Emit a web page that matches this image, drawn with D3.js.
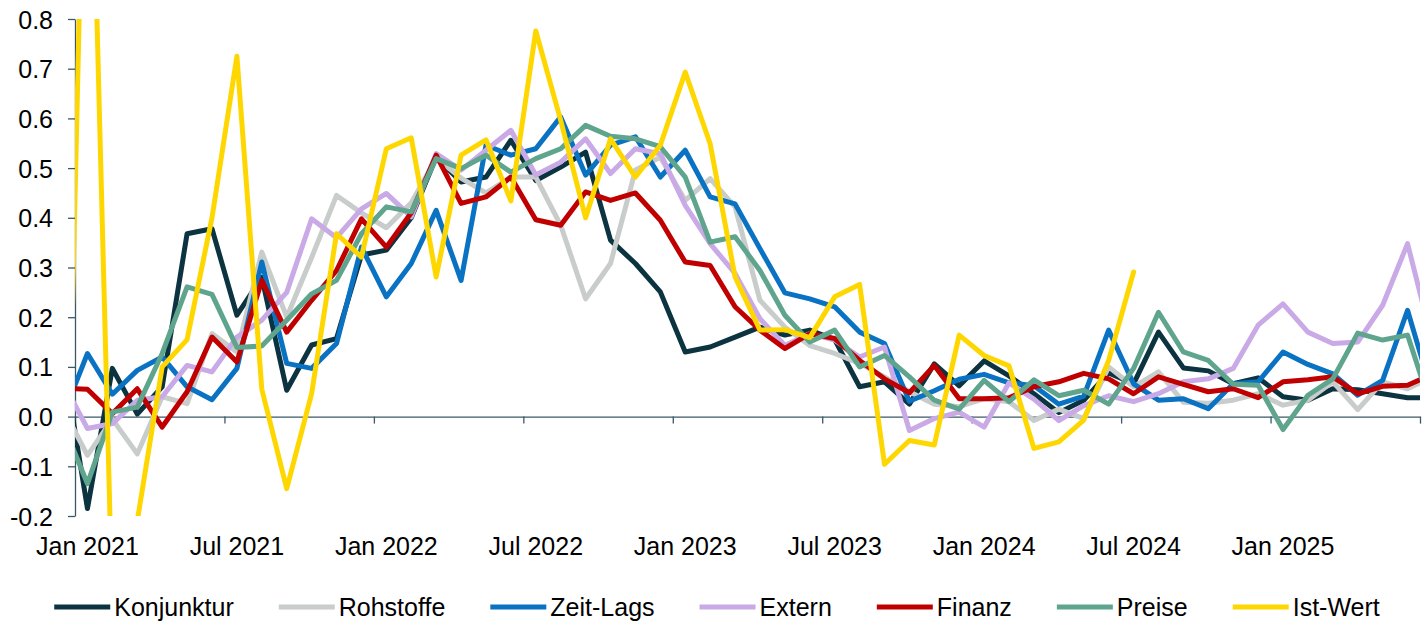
<!DOCTYPE html>
<html>
<head>
<meta charset="utf-8">
<script src="https://cdn.jsdelivr.net/npm/d3@7"></script>
<style>
  body { margin: 0; background: #fff; }
  svg text { font-family: "Liberation Sans", Arial, sans-serif; fill: #000; }
</style>
</head>
<body>
<div id="chart"></div>
<script>
// monthly values, Dec 2020 (index -1) .. Jul 2025; the plot shows Jan 2021 - Jun 2025
var firstMonth = new Date(2020, 11, 1);

var konjunktur = [0.125, -0.185, 0.097, 0.005, 0.06, 0.368, 0.378, 0.204, 0.28, 0.053, 0.144, 0.157, 0.325,
  0.335, 0.40, 0.522, 0.472, 0.482, 0.556, 0.475, 0.502, 0.532, 0.355, 0.308, 0.251,
  0.13, 0.14, 0.16, 0.18, 0.164, 0.174, 0.155, 0.06, 0.07, 0.025, 0.106, 0.062,
  0.112, 0.082, 0.046, 0.008, 0.033, 0.088, 0.066, 0.17, 0.098, 0.092, 0.066, 0.078,
  0.04, 0.033, 0.056, 0.054, 0.046, 0.038, 0.038];
var rohstoffe = [0.018, -0.078, -0.005, -0.075, 0.04, 0.026, 0.167, 0.13, 0.331, 0.2, 0.32, 0.445, 0.41,
  0.38, 0.43, 0.52, 0.48, 0.45, 0.482, 0.482, 0.385, 0.237, 0.308, 0.496, 0.522,
  0.435, 0.479, 0.422, 0.234, 0.18, 0.143, 0.127, 0.107, 0.08, 0.05, 0.025, 0.02,
  0.036, 0.03, -0.008, 0.015, -0.004, 0.1, 0.06, 0.09, 0.029, 0.027, 0.033, 0.046,
  0.023, 0.033, 0.07, 0.014, 0.07, 0.056, 0.08];
var zeitLags = [0.0, 0.127, 0.045, 0.093, 0.12, 0.06, 0.034, 0.097, 0.311, 0.107, 0.097, 0.147, 0.341,
  0.241, 0.308, 0.415, 0.274, 0.546, 0.526, 0.539, 0.603, 0.486, 0.546, 0.563, 0.482,
  0.536, 0.442, 0.428, 0.338, 0.249, 0.237, 0.221, 0.17, 0.147, 0.031, 0.052, 0.075,
  0.085, 0.068, 0.062, 0.025, 0.041, 0.174, 0.066, 0.033, 0.036, 0.016, 0.066, 0.07,
  0.13, 0.105, 0.086, 0.043, 0.073, 0.214, 0.044];
var extern = [0.07, -0.024, -0.014, 0.033, 0.04, 0.103, 0.09, 0.16, 0.194, 0.25, 0.398, 0.36, 0.418,
  0.449, 0.402, 0.529, 0.496, 0.536, 0.576, 0.486, 0.512, 0.559, 0.489, 0.539, 0.529,
  0.425, 0.348, 0.288, 0.197, 0.143, 0.167, 0.154, 0.12, 0.14, -0.028, -0.004, 0.009,
  -0.021, 0.068, 0.035, -0.008, 0.022, 0.042, 0.03, 0.046, 0.07, 0.076, 0.097, 0.184,
  0.227, 0.17, 0.147, 0.15, 0.224, 0.348, 0.15];
var finanz = [0.057, 0.055, 0.006, 0.056, -0.021, 0.05, 0.16, 0.11, 0.274, 0.17, 0.234, 0.294, 0.398,
  0.341, 0.41, 0.526, 0.429, 0.442, 0.482, 0.396, 0.385, 0.452, 0.435, 0.45, 0.395,
  0.311, 0.304, 0.221, 0.174, 0.137, 0.167, 0.157, 0.113, 0.076, 0.048, 0.103, 0.036,
  0.036, 0.038, 0.06, 0.07, 0.087, 0.076, 0.046, 0.08, 0.065, 0.05, 0.056, 0.038,
  0.07, 0.074, 0.08, 0.046, 0.061, 0.063, 0.085];
var preise = [-0.013, -0.135, 0.009, 0.019, 0.127, 0.261, 0.246, 0.139, 0.142, 0.194, 0.247, 0.274, 0.368,
  0.422, 0.412, 0.519, 0.499, 0.526, 0.492, 0.519, 0.539, 0.586, 0.564, 0.559, 0.543,
  0.482, 0.351, 0.362, 0.294, 0.204, 0.15, 0.174, 0.1, 0.123, 0.08, 0.033, 0.015,
  0.073, 0.03, 0.074, 0.042, 0.053, 0.025, 0.097, 0.21, 0.13, 0.113, 0.065, 0.063,
  -0.026, 0.043, 0.076, 0.168, 0.154, 0.164, 0.011];
var istWert = [-0.65, 1.53, -0.385, -0.21, 0.10, 0.155, 0.40, 0.725, 0.055, -0.145, 0.046, 0.368, 0.321,
  0.539, 0.561, 0.281, 0.526, 0.557, 0.434, 0.776, 0.596, 0.40, 0.559, 0.482, 0.546,
  0.693, 0.549, 0.281, 0.174, 0.175, 0.159, 0.241, 0.266, -0.096, -0.048, -0.057, 0.164,
  0.123, 0.102, -0.064, -0.051, -0.007, 0.113, 0.291];

var seriesNames = ["Konjunktur", "Rohstoffe", "Zeit-Lags", "Extern", "Finanz", "Preise", "Ist-Wert"];
var seriesColors = ["#0b3340", "#c8cccb", "#0a72c2", "#c9a9e6", "#c00000", "#5fa58e", "#ffd700"];
var seriesValues = [konjunktur, rohstoffe, zeitLags, extern, finanz, preise, istWert];

var yTicks = [-0.2, -0.1, 0.0, 0.1, 0.2, 0.3, 0.4, 0.5, 0.6, 0.7, 0.8];
var monthsShown = 54; // Jan 2021 .. Jun 2025
var labelEvery = 6;

var W = 1428, H = 623;
var margin = { top: 19, right: 8, bottom: 107, left: 75 };
var width = W - margin.left - margin.right,
    height = H - margin.top - margin.bottom;
var fontSize = 25;

var svg = d3.select("#chart").append("svg")
    .attr("width", W)
    .attr("height", H);

var g = svg.append("g")
    .attr("transform", "translate(" + margin.left + "," + margin.top + ")");

// x in months since Jan 2021 (month boundaries), points sit in the middle of the month
var x = d3.scaleLinear().domain([0, monthsShown]).range([0, width]);
var y = d3.scaleLinear().domain([-0.2, 0.8]).range([height, 0]);

svg.append("defs").append("clipPath").attr("id", "plotclip")
  .append("rect").attr("x", 0).attr("y", 0).attr("width", width).attr("height", height);

var axisColor = "#3b5866";

// y axis
var yAxis = g.append("g")
    .call(d3.axisLeft(y).tickValues(yTicks).tickSize(7).tickSizeOuter(0).tickPadding(15)
      .tickFormat(d3.format(".1f")));
yAxis.select(".domain").attr("stroke", axisColor).attr("stroke-width", 1.3);
yAxis.selectAll(".tick line").attr("stroke", axisColor).attr("stroke-width", 1.3);
yAxis.selectAll(".tick text").attr("font-size", fontSize).attr("dy", "0.36em")
  .text(function(d){ return d3.format(".1f")(d).replace("−", "-"); });

// x axis on the zero line
var xTickVals = d3.range(0, monthsShown + 1, labelEvery);
var xAxis = g.append("g")
    .attr("transform", "translate(0," + y(0) + ")")
    .call(d3.axisBottom(x).tickValues(xTickVals).tickSize(7).tickSizeOuter(0).tickFormat(""));
xAxis.select(".domain").attr("stroke", axisColor).attr("stroke-width", 1.3);
xAxis.selectAll(".tick line").attr("stroke", axisColor).attr("stroke-width", 1.3);

var fmtMonth = d3.timeFormat("%b %Y");
var labelIdx = d3.range(0, monthsShown, labelEvery);
g.append("g").selectAll("text")
  .data(labelIdx)
  .enter().append("text")
  .attr("x", function(d){ return x(d + 0.5); })
  .attr("y", height + 39)
  .attr("text-anchor", "middle")
  .attr("font-size", fontSize)
  .text(function(d){
    var dt = new Date(firstMonth.getFullYear(), firstMonth.getMonth() + 1 + d, 1);
    return fmtMonth(dt);
  });

// lines
var line = d3.line()
    .x(function(d, i){ return x(i - 1 + 0.5); })
    .y(function(d){ return y(d); });

var lines = g.append("g").attr("clip-path", "url(#plotclip)");
seriesValues.forEach(function(vals, k){
  lines.append("path")
    .datum(vals)
    .attr("fill", "none")
    .attr("stroke", seriesColors[k])
    .attr("stroke-width", 5)
    .attr("stroke-linejoin", "round")
    .attr("stroke-linecap", "round")
    .attr("d", line);
});

// legend
var legend = svg.append("g");
var lx = 0, swatch = 56, gap = 4, spacing = 45;
seriesNames.forEach(function(name, k){
  var it = legend.append("g").attr("transform", "translate(" + lx + ",0)");
  it.append("line")
    .attr("x1", 0).attr("x2", swatch).attr("y1", 0).attr("y2", 0)
    .attr("stroke", seriesColors[k]).attr("stroke-width", 5);
  var t = it.append("text")
    .attr("x", swatch + gap).attr("y", 0).attr("dy", "0.35em")
    .attr("font-size", fontSize)
    .text(name);
  lx += swatch + gap + t.node().getComputedTextLength() + spacing;
});
var legendW = lx - spacing;
legend.attr("transform", "translate(" + (717 - legendW / 2) + ",607)");
</script>
</body>
</html>
